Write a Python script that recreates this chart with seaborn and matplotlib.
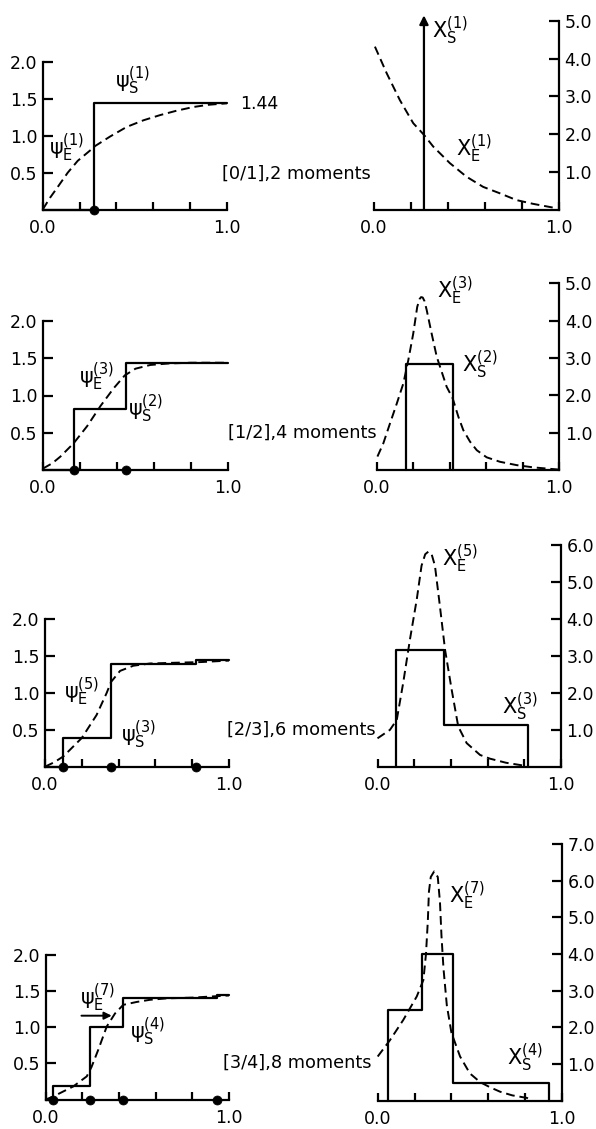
import matplotlib
matplotlib.use("Agg")
import matplotlib.pyplot as plt
import seaborn as sns

# ---------------------------------------------------------------------------
# Data: cumulative distributions psi (left column) and densities chi (right
# column) for the Pade approximants [0/1], [1/2], [2/3], [3/4].
# ---------------------------------------------------------------------------
captions = ["[0/1],2 moments", "[1/2],4 moments", "[2/3],6 moments", "[3/4],8 moments"]

# step functions psi_S: node positions and cumulative levels
psi_s1_nodes = [0.28]
psi_s1_levels = [1.44]
psi_s2_nodes = [0.17, 0.45]
psi_s2_levels = [0.82, 1.44]
psi_s3_nodes = [0.10, 0.36, 0.82]
psi_s3_levels = [0.39, 1.40, 1.45]
psi_s4_nodes = [0.04, 0.243, 0.42, 0.935]
psi_s4_levels = [0.19, 1.01, 1.40, 1.45]

# exact cumulative curves psi_E
psi_e1_x = [0, 0.04, 0.08, 0.136, 0.19, 0.257, 0.284, 0.366, 0.456, 0.547, 0.637, 0.727, 0.818, 0.9, 1.0]
psi_e1_y = [0, 0.16, 0.30, 0.50, 0.66, 0.80, 0.86, 0.99, 1.12, 1.21, 1.28, 1.34, 1.39, 1.42, 1.44]
psi_e3_x = [0, 0.05, 0.094, 0.166, 0.239, 0.311, 0.383, 0.442, 0.50, 0.58, 0.68, 0.80, 1.0]
psi_e3_y = [0.02, 0.09, 0.18, 0.36, 0.59, 0.86, 1.10, 1.27, 1.36, 1.41, 1.43, 1.44, 1.44]
psi_e5_x = [0, 0.05, 0.10, 0.20, 0.28, 0.335, 0.359, 0.408, 0.48, 0.57, 0.70, 0.85, 1.0]
psi_e5_y = [0.0, 0.06, 0.14, 0.39, 0.70, 1.00, 1.15, 1.30, 1.37, 1.40, 1.41, 1.42, 1.44]
psi_e7_x = [0, 0.04, 0.15, 0.224, 0.25, 0.287, 0.333, 0.378, 0.423, 0.496, 0.569, 0.66, 0.80, 1.0]
psi_e7_y = [0.0, 0.04, 0.18, 0.32, 0.45, 0.69, 1.01, 1.19, 1.31, 1.35, 1.38, 1.40, 1.41, 1.44]

# densities chi_S: spike position / histogram edges and heights
chi_s1_spike = 0.27
chi_s1_top = 5.15
chi_s2_edges = [0.16, 0.42]
chi_s2_heights = [2.83]
chi_s3_edges = [0.10, 0.362, 0.818]
chi_s3_heights = [3.17, 1.12]
chi_s4_edges = [0.058, 0.239, 0.41, 0.928]
chi_s4_heights = [2.47, 4.0, 0.49]

# exact densities chi_E
chi_e1_x = [0.005, 0.069, 0.14, 0.212, 0.27, 0.32, 0.41, 0.50, 0.59, 0.68, 0.77, 0.86, 0.99]
chi_e1_y = [4.32, 3.61, 2.90, 2.29, 1.98, 1.67, 1.23, 0.87, 0.60, 0.43, 0.25, 0.15, 0.03]
chi_e3_x = [0.004, 0.036, 0.073, 0.11, 0.146, 0.173, 0.20, 0.222, 0.235, 0.243, 0.252, 0.262, 0.274,
            0.301, 0.329, 0.383, 0.416, 0.447, 0.474, 0.511, 0.548, 0.602, 0.675, 0.767, 0.858, 1.0]
chi_e3_y = [0.36, 0.71, 1.25, 1.78, 2.32, 2.94, 3.65, 4.37, 4.58, 4.63, 4.62, 4.52, 4.28,
            3.65, 3.03, 2.23, 1.92, 1.43, 1.07, 0.76, 0.53, 0.34, 0.22, 0.13, 0.07, 0.01]
chi_e5_x = [0.0, 0.068, 0.105, 0.14, 0.177, 0.214, 0.24, 0.26, 0.277, 0.295, 0.313, 0.34, 0.368,
            0.404, 0.44, 0.486, 0.559, 0.613, 0.70, 0.80]
chi_e5_y = [0.77, 1.00, 1.27, 2.27, 3.45, 4.53, 5.44, 5.75, 5.82, 5.75, 5.44, 4.35, 3.17,
            2.09, 1.09, 0.64, 0.32, 0.22, 0.11, 0.03]
chi_e7_x = [0.0, 0.067, 0.139, 0.212, 0.248, 0.262, 0.272, 0.278, 0.288, 0.306, 0.326, 0.338, 0.346,
            0.357, 0.375, 0.40, 0.447, 0.50, 0.556, 0.61, 0.664, 0.73, 0.81, 0.83]
chi_e7_y = [1.20, 1.65, 2.20, 2.84, 3.29, 4.00, 4.90, 5.70, 6.10, 6.25, 6.10, 5.40, 4.50,
            3.60, 2.60, 1.85, 1.20, 0.74, 0.50, 0.36, 0.24, 0.14, 0.07, 0.02]

# ---------------------------------------------------------------------------
sns.set_style("ticks")
plt.rcParams["font.family"] = ["DejaVu Sans"]
plt.rcParams["mathtext.fontset"] = "dejavusans"
plt.rcParams["mathtext.default"] = "regular"
for key in ("text.color", "axes.edgecolor", "axes.labelcolor", "xtick.color", "ytick.color"):
    plt.rcParams[key] = "black"

W, H = 596, 1129
fig = plt.figure(figsize=(W / 100, H / 100), dpi=100)

LW = 1.6
DLW = 1.4
DASH = (0, (4.5, 2.5))
TICK_FS = 12.5
LABEL_FS = 15


def px_axes(x0, x1, ybot, ytop):
    return fig.add_axes([x0 / W, 1 - ybot / H, (x1 - x0) / W, (ybot - ytop) / H])


def fig_text(x, y, s, **kw):
    fig.text(x / W, 1 - y / H, s, **kw)


def style_axes(ax, ymax, side):
    ax.set_xlim(0, 1)
    ax.set_ylim(0, ymax)
    ax.set_xticks([0, 0.2, 0.4, 0.6, 0.8, 1.0])
    ax.set_xticklabels(["0.0", "", "", "", "", "1.0"])
    ax.tick_params(axis="x", direction="in", length=6, width=LW, pad=6.5,
                   labelsize=TICK_FS, colors="black")
    ax.tick_params(axis="y", direction="in", length=7, width=LW, pad=4,
                   labelsize=TICK_FS, colors="black")
    for sp in ax.spines.values():
        sp.set_linewidth(LW)
        sp.set_color("black")
    if side == "left":
        sns.despine(ax=ax)
        yt = [0.5, 1.0, 1.5, 2.0]
    else:
        sns.despine(ax=ax, left=True, right=False)
        ax.yaxis.tick_right()
        yt = [float(v) for v in range(1, int(ymax) + 1)]
    ax.set_yticks(yt)
    ax.set_yticklabels([f"{v:.1f}" for v in yt])
    ax.set_xlabel("")
    ax.set_ylabel("")
    ax.patch.set_alpha(0)


def draw_psi(ax, nodes, levels, ex, ey):
    sx = [0.0] + list(nodes) + [1.0]
    sy = [0.0] + list(levels) + [levels[-1]]
    sns.lineplot(x=sx, y=sy, ax=ax, color="black", lw=LW, drawstyle="steps-post",
                 estimator=None, sort=False, clip_on=False)
    sns.lineplot(x=ex, y=ey, ax=ax, color="black", lw=DLW, linestyle=DASH,
                 estimator=None, sort=False, clip_on=False)
    sns.scatterplot(x=list(nodes), y=[0.0] * len(nodes), ax=ax, color="black",
                    s=42, edgecolor="black", zorder=5, clip_on=False)


def draw_chi(ax, edges, heights, ex, ey):
    hx = [edges[0]] + list(edges)
    hy = [0.0] + list(heights) + [0.0]
    sns.lineplot(x=hx, y=hy, ax=ax, color="black", lw=LW, drawstyle="steps-post",
                 estimator=None, sort=False, clip_on=False)
    sns.lineplot(x=ex, y=ey, ax=ax, color="black", lw=DLW, linestyle=DASH,
                 estimator=None, sort=False, clip_on=False)


# ---------------- row 1 ----------------
axL1 = px_axes(42.7, 227, 209.5, 62)
draw_psi(axL1, psi_s1_nodes, psi_s1_levels, psi_e1_x, psi_e1_y)
style_axes(axL1, 2, "left")

axR1 = px_axes(374, 559, 209.5, 21)
sns.lineplot(x=chi_e1_x, y=chi_e1_y, ax=axR1, color="black", lw=DLW, linestyle=DASH,
             estimator=None, sort=False, clip_on=False)
axR1.annotate("", xy=(chi_s1_spike, chi_s1_top), xytext=(chi_s1_spike, 0),
              arrowprops=dict(arrowstyle="-|>", lw=LW, color="black",
                              mutation_scale=13, shrinkA=0, shrinkB=0),
              annotation_clip=False)
style_axes(axR1, 5, "right")

# ---------------- row 2 ----------------
axL2 = px_axes(43, 228, 470, 321)
draw_psi(axL2, psi_s2_nodes, psi_s2_levels, psi_e3_x, psi_e3_y)
style_axes(axL2, 2, "left")

axR2 = px_axes(376.7, 559.3, 470, 283.3)
draw_chi(axR2, chi_s2_edges, chi_s2_heights, chi_e3_x, chi_e3_y)
style_axes(axR2, 5, "right")

# ---------------- row 3 ----------------
axL3 = px_axes(45, 229, 766.7, 619.3)
draw_psi(axL3, psi_s3_nodes, psi_s3_levels, psi_e5_x, psi_e5_y)
style_axes(axL3, 2, "left")

axR3 = px_axes(377.5, 561, 766.8, 545)
draw_chi(axR3, chi_s3_edges, chi_s3_heights, chi_e5_x, chi_e5_y)
style_axes(axR3, 6, "right")

# ---------------- row 4 ----------------
axL4 = px_axes(45.7, 229, 1099.5, 955)
draw_psi(axL4, psi_s4_nodes, psi_s4_levels, psi_e7_x, psi_e7_y)
style_axes(axL4, 2, "left")
axL4.annotate("", xy=(0.36, 1.16), xytext=(0.195, 1.16),
              arrowprops=dict(arrowstyle="-|>", lw=1.4, color="black",
                              mutation_scale=11, shrinkA=0, shrinkB=0),
              annotation_clip=False)

axR4 = px_axes(377.7, 562, 1100.5, 844)
draw_chi(axR4, chi_s4_edges, chi_s4_heights, chi_e7_x, chi_e7_y)
style_axes(axR4, 7, "right")

# ---------------- labels ----------------
lab = dict(fontsize=LABEL_FS, ha="center", va="center", color="black")
cap = dict(fontsize=12.8, ha="left", va="center", color="black")

fig_text(133, 81, r"$\psi_S^{(1)}$", **lab)
fig_text(67, 148, r"$\psi_E^{(1)}$", **lab)
fig_text(240, 104, "1.44", fontsize=12.5, ha="left", va="center", color="black")
fig_text(222, 174, captions[0], **cap)
fig_text(450, 31, r"$X_S^{(1)}$", **lab)
fig_text(474, 149, r"$X_E^{(1)}$", **lab)

fig_text(97, 377, r"$\psi_E^{(3)}$", **lab)
fig_text(146, 409, r"$\psi_S^{(2)}$", **lab)
fig_text(228, 433, captions[1], **cap)
fig_text(455, 291, r"$X_E^{(3)}$", **lab)
fig_text(480, 365, r"$X_S^{(2)}$", **lab)

fig_text(82, 692, r"$\psi_E^{(5)}$", **lab)
fig_text(139, 735, r"$\psi_S^{(3)}$", **lab)
fig_text(227, 730, captions[2], **cap)
fig_text(460, 559, r"$X_E^{(5)}$", **lab)
fig_text(520, 707, r"$X_S^{(3)}$", **lab)

fig_text(98, 998, r"$\psi_E^{(7)}$", **lab)
fig_text(148, 1032, r"$\psi_S^{(4)}$", **lab)
fig_text(223, 1063, captions[3], **cap)
fig_text(467, 896, r"$X_E^{(7)}$", **lab)
fig_text(525, 1058, r"$X_S^{(4)}$", **lab)

fig.savefig("out.png", dpi=100)
